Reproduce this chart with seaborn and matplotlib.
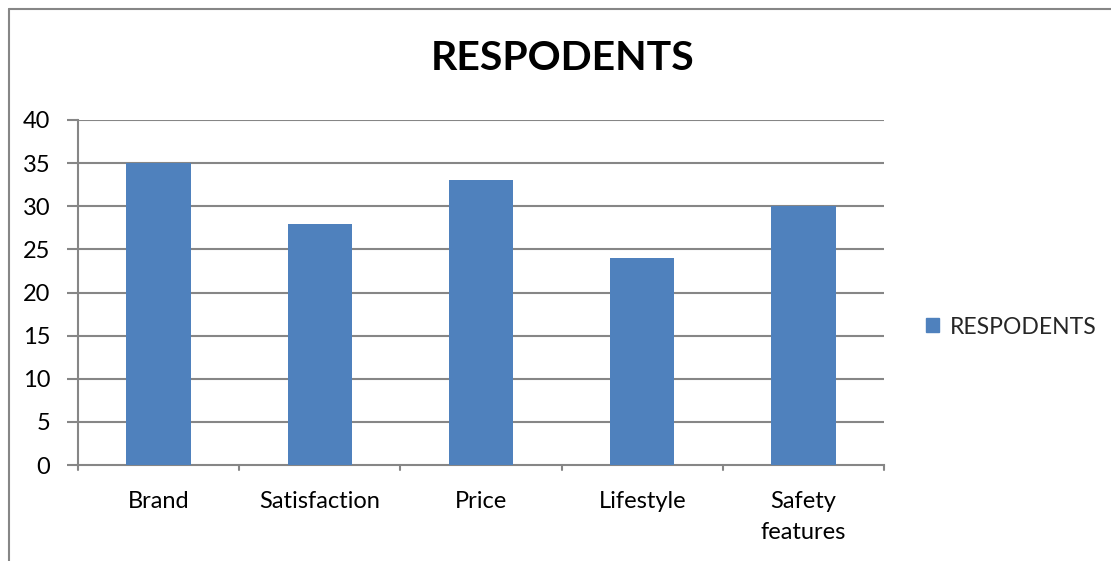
import matplotlib
matplotlib.use("Agg")
import matplotlib.pyplot as plt
import pandas as pd
import seaborn as sns
from matplotlib.lines import Line2D
from matplotlib.patches import Patch

categories = ["Brand", "Satisfaction", "Price", "Lifestyle", "Safety\nfeatures"]
respondents = [35, 28, 33, 24, 30]
y_ticks = [0, 5, 10, 15, 20, 25, 30, 35, 40]
series_name = "RESPODENTS"

sns.set_theme(style="white")
plt.rcParams["font.family"] = ["Lato", "DejaVu Sans"]

BAR = "#4F81BD"
GRID = "#868686"

df = pd.DataFrame({"category": categories, "value": respondents})

W, H = 1111, 561
fig = plt.figure(figsize=(W / 100, H / 100), dpi=100)
ax = fig.add_axes([78 / W, 1 - 465 / H, (884 - 78) / W, (465 - 120) / H])

sns.barplot(data=df, x="category", y="value", color=BAR, width=0.4,
            saturation=1, linewidth=0, ax=ax, zorder=3)

ax.set_ylim(0, 40)
ax.set_xlim(-0.5, len(categories) - 0.5)
ax.set_yticks(y_ticks)
ax.set_yticklabels([str(t) for t in y_ticks], fontsize=17, color="black")
ax.set_xticks(range(len(categories)))
ax.set_xticklabels(categories, fontsize=17, color="black", linespacing=1.55)
ax.tick_params(axis="x", length=0, pad=19, labelcolor="black")
ax.tick_params(axis="y", length=8, width=1.5, color=GRID, pad=12, left=True)
for t in y_ticks[1:]:
    ax.axhline(t, color=GRID, linewidth=1.5, zorder=1)
# category boundary ticks below the x axis
for b in [i - 0.5 for i in range(len(categories) + 1)]:
    ax.plot([b, b], [0, -0.6], color=GRID, linewidth=1.5, clip_on=False, zorder=2)
ax.set_xlabel("")
ax.set_ylabel("")
for side in ["top", "right"]:
    ax.spines[side].set_visible(False)
for side in ["left", "bottom"]:
    ax.spines[side].set_color(GRID)
    ax.spines[side].set_linewidth(1.5)

fig.text(563 / W, 1 - 59 / H, series_name, ha="center", va="center",
         fontsize=29.5, fontweight="bold", color="black")

handles = [Patch(facecolor=BAR, edgecolor=BAR, label=series_name)]
fig.legend(handles=handles, loc="center left", bbox_to_anchor=(926 / W, 1 - 327 / H),
           frameon=False, fontsize=16.5, handlelength=0.55, handleheight=0.55,
           handletextpad=0.5, borderaxespad=0, borderpad=0)

# outer chart frame (top and left edges visible)
fig.add_artist(Line2D([8.5 / W, 8.5 / W], [0, 1 - 8.5 / H], transform=fig.transFigure,
                      color=GRID, linewidth=1.5))
fig.add_artist(Line2D([8.5 / W, 1], [1 - 8.5 / H, 1 - 8.5 / H], transform=fig.transFigure,
                      color=GRID, linewidth=1.5))

fig.savefig("out.png", dpi=100)
